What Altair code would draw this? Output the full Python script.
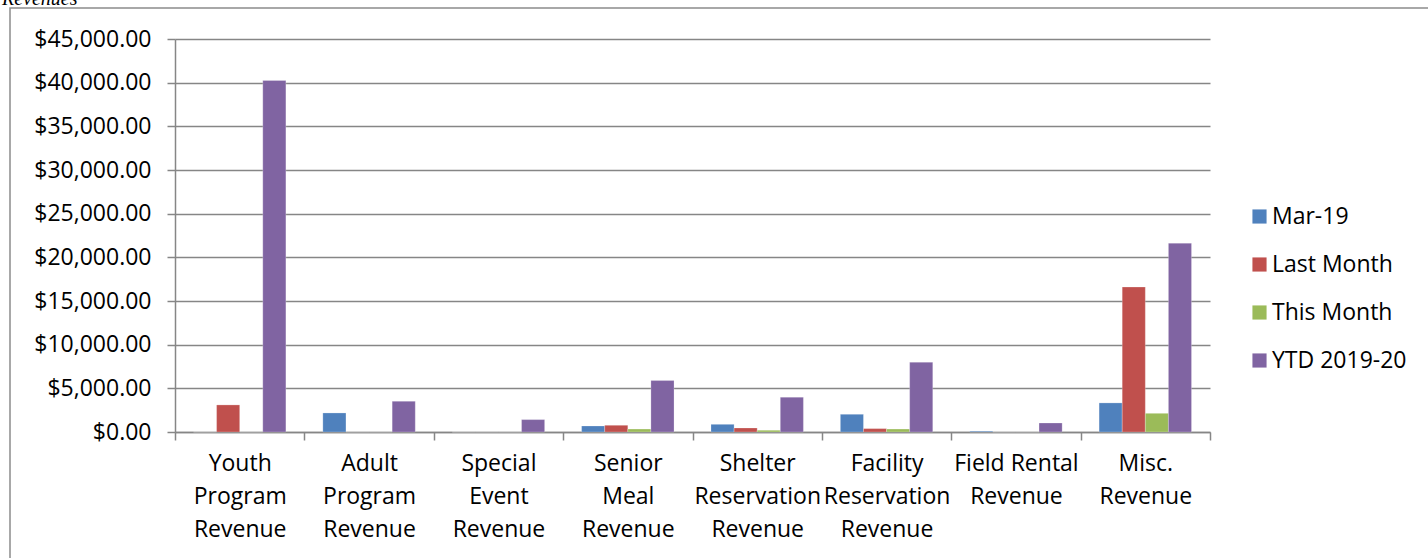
import altair as alt
import pandas as pd

categories = [
    "Youth|Program|Revenue",
    "Adult|Program|Revenue",
    "Special|Event|Revenue",
    "Senior|Meal|Revenue",
    "Shelter|Reservation|Revenue",
    "Facility|Reservation|Revenue",
    "Field Rental|Revenue",
    "Misc.|Revenue",
]
series = ["Mar-19", "Last Month", "This Month", "YTD 2019-20"]
colors = ["#4F81BD", "#C0504D", "#9BBB59", "#8064A2"]

mar19 = [0, 2180, 0, 690, 880, 2030, 90, 3330]
last_month = [3100, 0, 0, 770, 460, 390, 0, 16600]
this_month = [0, 0, 0, 340, 200, 340, 0, 2140]
ytd_2019_20 = [40250, 3520, 1420, 5890, 3980, 7990, 1030, 21620]

y_ticks = [0, 5000, 10000, 15000, 20000, 25000, 30000, 35000, 40000, 45000]
title_text = "Revenues"

rows = []
for name, vals in zip(series, [mar19, last_month, this_month, ytd_2019_20]):
    for c, v in zip(categories, vals):
        rows.append({"category": c, "series": name, "value": v})
df = pd.DataFrame(rows)

FONT = "Open Sans"
FS = 23
GRID = "#868686"

bars = alt.Chart(df).mark_bar(stroke="#ffffff", strokeWidth=0.4, strokeOpacity=0.6).encode(
    x=alt.X(
        "category:N",
        sort=categories,
        scale=alt.Scale(paddingInner=0, paddingOuter=0),
        axis=alt.Axis(
            title=None,
            labelAngle=0,
            labelExpr="split(datum.label, '|')",
            tickBand="extent",
            tickSize=8,
            tickColor=GRID,
            tickWidth=1.5,
            domainColor=GRID,
            domainWidth=1.5,
            labelPadding=12,
            labelLineHeight=33,
            labelBaseline="top",
            grid=False,
        ),
    ),
    xOffset=alt.XOffset(
        "series:N", sort=series, scale=alt.Scale(paddingInner=0, paddingOuter=0.8)
    ),
    y=alt.Y(
        "value:Q",
        scale=alt.Scale(domain=[0, 45000], nice=False),
        axis=alt.Axis(
            title=None,
            values=y_ticks,
            format="$,.2f",
            tickSize=8,
            tickColor=GRID,
            tickWidth=1.5,
            domainColor=GRID,
            domainWidth=1.5,
            gridColor=GRID,
            gridWidth=1.5,
            labelPadding=16,
        ),
    ),
    color=alt.Color(
        "series:N",
        sort=series,
        scale=alt.Scale(domain=series, range=colors),
        legend=alt.Legend(
            title=None,
            orient="none",
            legendX=1073,
            legendY=166,
            symbolType="square",
            symbolSize=200,
            symbolStrokeWidth=0,
            labelOffset=1,
            rowPadding=24,
        ),
    ),
)

one = pd.DataFrame({"a": [0]})

frame = alt.Chart(one).mark_rect(
    fillOpacity=0, stroke="#8c8c8c", strokeWidth=1.5
).encode(
    x=alt.value(-165), x2=alt.value(1300), y=alt.value(-31), y2=alt.value(600)
)

title = alt.Chart(one).mark_text(
    align="left",
    baseline="alphabetic",
    font="Liberation Serif",
    fontStyle="italic",
    fontSize=20,
    color="black",
).encode(x=alt.value(-173), y=alt.value(-34), text=alt.value(title_text))

chart = alt.layer(frame, title, bars).properties(
    width=1035,
    height=393,
    autosize=alt.AutoSizeParams(type="none"),
    padding={"left": 175, "top": 39, "right": 218, "bottom": 126},
).configure(
    font=FONT,
).configure_view(
    stroke=None
).configure_axis(
    labelFont=FONT, labelFontSize=FS, labelColor="black"
).configure_legend(
    labelFont=FONT, labelFontSize=FS, labelColor="black"
)

chart.save("out.html", embed_options={"renderer": "svg", "actions": False})
